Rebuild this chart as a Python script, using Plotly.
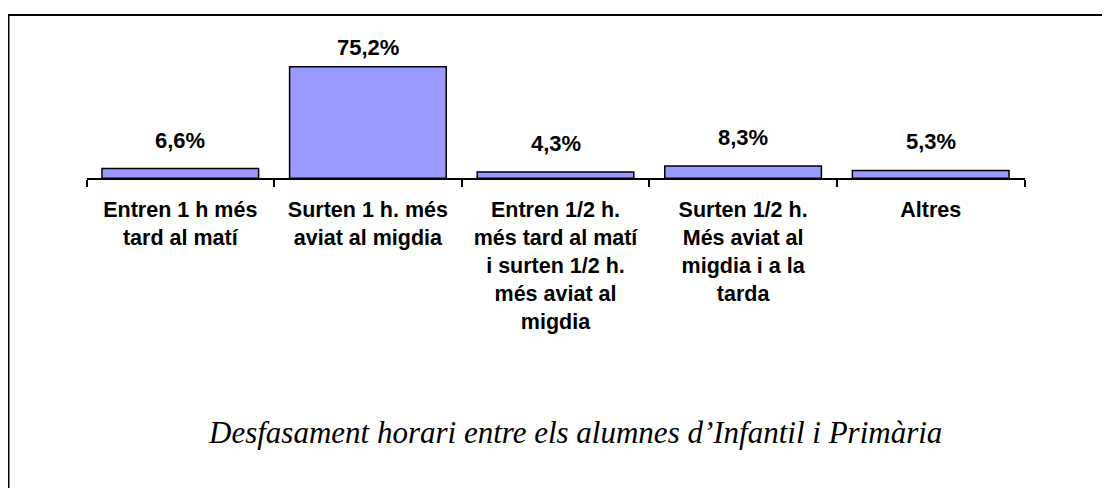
import plotly.graph_objects as go

categories = [
    "Entren 1 h més tard al matí",
    "Surten 1 h. més aviat al migdia",
    "Entren 1/2 h. més tard al matí i surten 1/2 h. més aviat al migdia",
    "Surten 1/2 h. Més aviat al migdia i a la tarda",
    "Altres",
]
tick_labels = [
    "Entren 1 h més<br>tard al matí",
    "Surten 1 h. més<br>aviat al migdia",
    "Entren 1/2 h.<br>més tard al matí<br>i surten 1/2 h.<br>més aviat al<br>migdia",
    "Surten 1/2 h.<br>Més aviat al<br>migdia i a la<br>tarda",
    "Altres",
]
values = [6.6, 75.2, 4.3, 8.3, 5.3]
value_labels = ["6,6%", "75,2%", "4,3%", "8,3%", "5,3%"]
title_text = "Desfasament horari entre els alumnes d\u2019Infantil i Primària"

# page has an 8px body margin; figure drawn from (8,8)
W, H = 1102, 480
OFF = 8


def px(x):
    return (x - OFF) / W


def py(y):
    return 1 - (y - OFF) / H


fig = go.Figure()
fig.add_trace(go.Bar(
    x=categories, y=values,
    marker=dict(color="#9999FF", line=dict(color="black", width=1.5)),
    hoverinfo="skip",
))

label_shift = [14, 5, 14, 14, 14]
for c, v, t, s in zip(categories, values, value_labels, label_shift):
    fig.add_annotation(
        x=c, y=v, text=t, showarrow=False, yanchor="bottom", yshift=s,
        font=dict(family="Arial, Liberation Sans", size=22, weight="bold", color="black"),
    )

fig.add_annotation(
    xref="paper", yref="paper", x=px(574.5), y=py(432), yanchor="middle",
    text=title_text, showarrow=False,
    font=dict(family="Times New Roman, Liberation Serif", size=31, style="italic", color="black"),
)

# frame
fig.add_shape(type="line", xref="paper", yref="paper",
              x0=px(7.5), x1=1, y0=py(15), y1=py(15),
              line=dict(color="black", width=2))
fig.add_shape(type="line", xref="paper", yref="paper",
              x0=px(8.5), x1=px(8.5), y0=0, y1=py(15),
              line=dict(color="black", width=2))

fig.update_layout(
    width=W, height=H, autosize=False,
    margin=dict(l=0, r=0, t=0, b=0),
    paper_bgcolor="white", plot_bgcolor="white",
    showlegend=False, bargap=0.165,
    xaxis=dict(
        domain=[px(86.5), px(1024.5)],
        tickmode="array", tickvals=categories, ticktext=tick_labels,
        tickson="boundaries", ticks="outside", ticklen=7, tickwidth=1.5, tickcolor="black",
        ticklabelstandoff=11,
        showline=True, linecolor="black", linewidth=2,
        showgrid=False, zeroline=False,
        tickfont=dict(family="Arial, Liberation Sans", size=21.5, weight="bold", color="black"),
    ),
    yaxis=dict(
        domain=[py(178.3), py(30)], range=[0, 100],
        visible=False, showgrid=False, zeroline=False,
    ),
)

fig.write_html("out.html")
